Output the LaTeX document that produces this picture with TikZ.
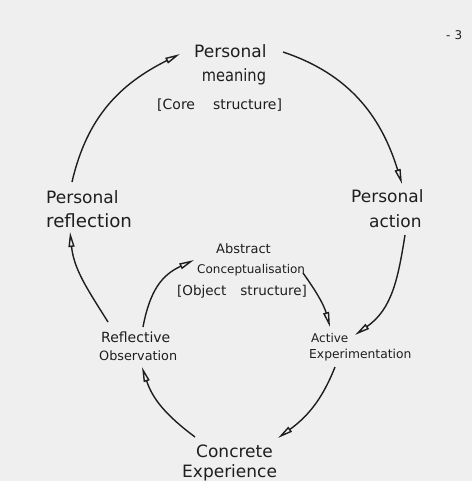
\documentclass[tikz,border=0pt]{standalone}
\usepackage{fontspec}
\setmainfont{DejaVu Sans}
\usetikzlibrary{arrows.meta}
\definecolor{bg}{HTML}{EFEFEF}
\definecolor{ink}{HTML}{1E1E1E}
\begin{document}
\begin{tikzpicture}[x=1pt,y=-1pt,
  big/.style={font=\fontsize{17}{20}\selectfont, text=ink, inner sep=0pt, anchor=base west},
  small/.style={font=\fontsize{12}{14}\selectfont, text=ink, inner sep=0pt, anchor=base west},
  mid/.style={font=\fontsize{14}{16}\selectfont, text=ink, inner sep=0pt, anchor=base west},
  flow/.style={draw=ink, line width=1.4pt, -{Triangle[open, length=15pt, width=6pt]}}]
\fill[bg] (0,0) rectangle (472,481);
\useasboundingbox (0,0) rectangle (472,481);

% page number
\node[small] (pg) at (446,40) {-\hspace{4pt}3};

% outer cycle labels
\node[big] (pm1) at (194,58) {Personal};
\node[big, anchor=base] (pm2) at (234,82) {\scalebox{0.86}[1]{meaning}};
\node[mid] (core) at (157,110) {[Core\hspace{18pt}structure]};
\node[big] (pa1) at (351,202) {Personal};
\node[big] (pa2) at (369,227) {action};
\node[big] (pr1) at (46,203) {Personal};
\node[big, font=\fontsize{18.2}{20}\selectfont] (pr2) at (46,227) {reflection};
\node[big] (ce1) at (196,457) {Concrete};
\node[big] (ce2) at (182,477) {Experience};

% inner cycle labels
\node[small, font=\fontsize{13}{15}\selectfont] (ac1) at (216,253) {Abstract};
\node[small] (ac2) at (197,273) {Conceptualisation};
\node[mid, font=\fontsize{13.5}{15}\selectfont] (obj) at (177,295) {[Object\hspace{14pt}structure]};
\node[small, font=\fontsize{14}{15}\selectfont] (ro1) at (101,342) {Reflective};
\node[small, font=\fontsize{12.8}{15}\selectfont] (ro2) at (99,360) {Observation};
\node[small] (ae1) at (311,342) {Active};
\node[small, font=\fontsize{12.3}{15}\selectfont] (ae2) at (309,358) {Experimentation};

% connector end points
\coordinate (prTop) at (72,182);
\coordinate (pmL) at (180,54);
\coordinate (pmR) at (283,52);
\coordinate (paTop) at (402,184);
\coordinate (paBot) at (405,235);
\coordinate (aeR) at (355,335);
\coordinate (roL) at (108,322);
\coordinate (prBot) at (70,232);
\coordinate (roR) at (143,327);
\coordinate (acL) at (194,260);
\coordinate (acR) at (303,273);
\coordinate (aeTop) at (330,327);
\coordinate (aeBot) at (335,367);
\coordinate (ceR) at (278,438);
\coordinate (ceL) at (195,437);
\coordinate (roBot) at (142,367);

% outer cycle
\draw[flow] (prTop) .. controls (87,117) and (120,84) .. (pmL);
\draw[flow] (pmR) .. controls (349,74) and (381,116) .. (paTop);
\draw[flow] (paBot) .. controls (398,279) and (392,309) .. (aeR);
\draw[flow] (roL) .. controls (88,290) and (74,270) .. (prBot);

% inner cycle
\draw[flow] (roR) .. controls (150,290) and (162,275) .. (acL);
\draw[flow] (acR) .. controls (316,291) and (324,305) .. (aeTop);
\draw[flow] (aeBot) .. controls (322,400) and (307,417) .. (ceR);
\draw[flow] (ceL) .. controls (167,416) and (153,400) .. (roBot);
\end{tikzpicture}
\end{document}
